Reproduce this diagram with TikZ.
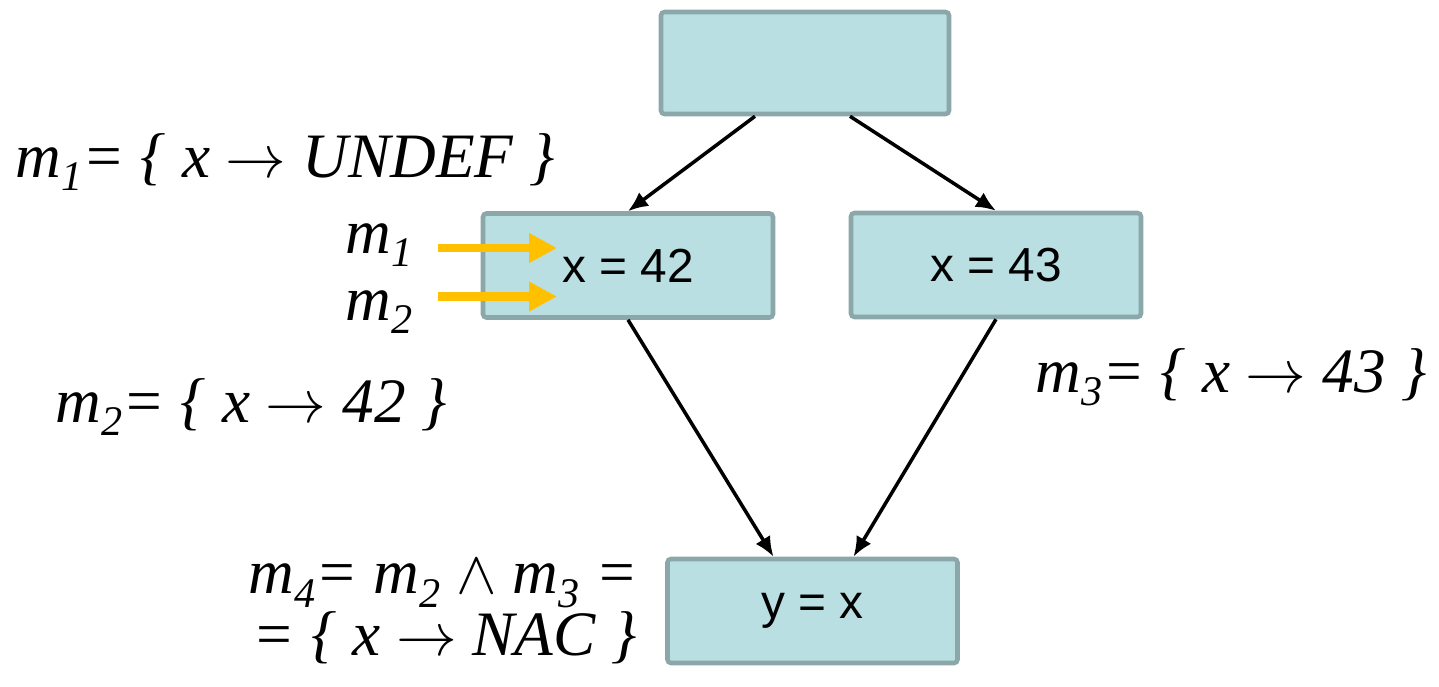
\documentclass[tikz,border=0pt]{standalone}
\usepackage{fontspec}
\setmainfont{Liberation Serif}
\newfontfamily\boxfont{Liberation Sans}
\usetikzlibrary{arrows.meta}
\definecolor{boxfill}{HTML}{B9DFE3}
\definecolor{boxline}{HTML}{8BA7AA}
\definecolor{gold}{HTML}{FFC000}
\newcommand{\mm}[1]{m\raisebox{-0.22em}{\fontsize{12}{12}\selectfont #1}}
\tikzset{
  blk/.style={draw=boxline, line width=1.3pt, fill=boxfill, rounded corners=1pt,
    minimum width=2.9cm, minimum height=1.04cm, font=\boxfont\fontsize{13.6}{15}\selectfont},
  flow/.style={-{Latex[length=2mm,width=1.7mm]}, line width=1pt},
  hot/.style={-{Triangle[length=2.8mm,width=2.8mm]}, line width=2.4pt, gold},
  lbl/.style={anchor=base west, inner sep=0pt, font=\itshape\fontsize{18}{16.5}\selectfont}
}
\begin{document}
\begin{tikzpicture}
  \useasboundingbox (0,0) rectangle (14.39,-6.86);
  % blocchi
  \node[blk, minimum width=2.88cm, minimum height=1.02cm] (top) at (8.05,-0.63) {};
  \node[blk] (a) at (6.28,-2.655) {x = 42};
  \node[blk] (b) at (9.96,-2.65) {x = 43};
  \node[blk] (c) at (8.125,-6.11) {y = x};

  \draw[flow] ([xshift=-5mm]top.south) -- (a.north);
  \draw[flow] ([xshift=4.5mm]top.south) -- (b.north);
  \draw[flow] (a.south) -- ([xshift=-3.9mm]c.north);
  \draw[flow] (b.south) -- ([xshift=4.1mm]c.north);

  % mappe
  \node[lbl] (m1) at (0.15,-1.77) {\mm{1}= \{ x $\rightarrow$ UNDEF \}};
  \node[lbl] (ma) at (3.45,-2.53) {\mm{1}};
  \node[lbl] (mb) at (3.45,-3.20) {\mm{2}};
  \node[lbl] (m2) at (0.55,-4.22) {\mm{2}= \{ x $\rightarrow$ 42 \}};
  \node[lbl] (m3) at (10.35,-3.92) {\mm{3}= \{ x $\rightarrow$ 43 \}};
  \node[lbl, align=left] (m4) at (2.48,-6.55)
    {\mm{4}= \mm{2} $\wedge$ \mm{3} =\\\hspace{0.4mm}= \{ x $\rightarrow$ NAC \}};

  \coordinate (in1) at (4.38,-2.48);
  \coordinate (to1) at (5.57,-2.48);
  \coordinate (in2) at (4.38,-2.965);
  \coordinate (to2) at (5.57,-2.965);
  \draw[hot] (in1) -- (to1);
  \draw[hot] (in2) -- (to2);
\end{tikzpicture}
\end{document}
